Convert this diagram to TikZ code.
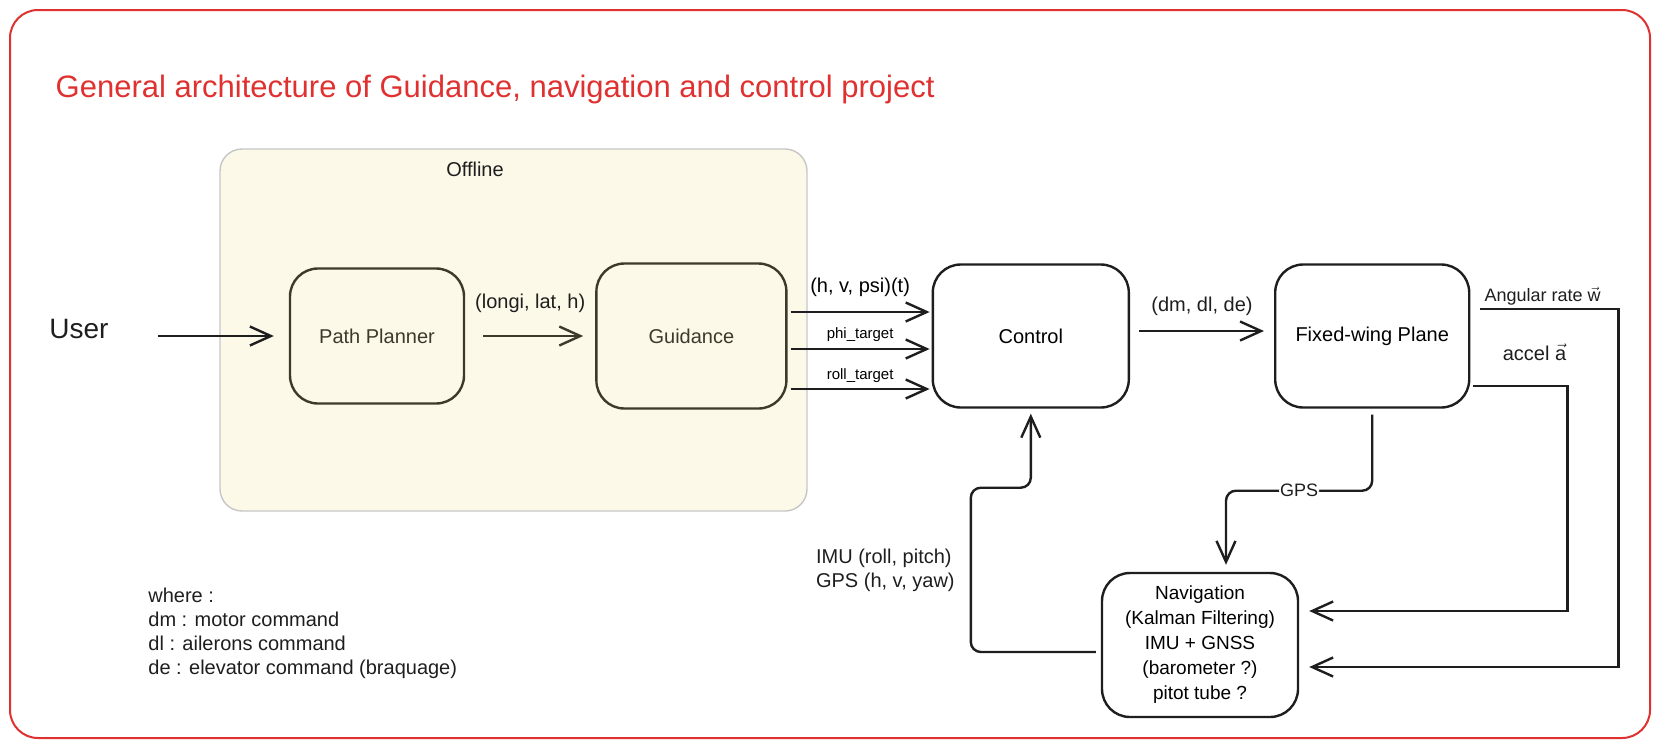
\documentclass[tikz,border=0pt]{standalone}
\usepackage{fontspec}
\setmainfont{Liberation Sans}
\usetikzlibrary{positioning,calc,arrows.meta}

\definecolor{frame}{HTML}{E03131}
\definecolor{olive}{HTML}{3D3A2C}
\definecolor{cream}{HTML}{FDF9E9}
\definecolor{ink}{HTML}{1E1E1E}

\tikzset{
  box/.style={draw=ink, line width=2.4pt, rounded corners=28pt, minimum width=196pt,
    minimum height=143pt, align=center, font=\fontsize{20}{25}\selectfont},
  arr/.style={draw=ink, line width=2.4pt, -{Straight Barb[length=21pt,width=19pt]}},
  lbl/.style={font=\fontsize{20}{24}\selectfont, inner sep=2pt, text=ink},
}

\begin{document}
\begin{tikzpicture}[x=1pt, y=-1pt, thick]
            \useasboundingbox (0,0) rectangle (1660,748);
            % frame and offline area
            \draw[frame, line width=2pt, rounded corners=28pt] (10,10) rectangle (1650,738);
            \draw[draw=gray!45, fill=cream, line width=1.4pt, rounded corners=22pt] (220,149) rectangle (807,511);
            \node[font=\fontsize{31}{36}\selectfont, text=frame, anchor=west] (title) at (52,89) {General architecture of Guidance, navigation and control project};
            \node[lbl] (off) at (475,169) {Offline};

            % blocks
            \node[lbl, font=\fontsize{28}{32}\selectfont] (1) at (79,329) {User};
            \node[box, draw=olive, text=olive, minimum width=174pt, minimum height=135pt] (2) at (377,336) {Path Planner};
            \node[box, draw=olive, text=olive, minimum width=190pt, minimum height=145pt] (3) [right=130pt of 2] {Guidance};
            \node[box] (4) [right=144pt of 3] {Control};
            \node[box, minimum width=194pt] (5) [right=144pt of 4] {Fixed-wing Plane};
            \node[box, minimum height=144pt, font=\fontsize{19}{25}\selectfont] (6) at (1200,645) {Navigation\\(Kalman Filtering)\\IMU + GNSS\\(barometer ?)\\pitot tube ?};

            % connectors
            \draw[arr, shorten <=47pt, shorten >=15pt] (1.east |- 2.west) -- (2.west);
            \draw[arr, draw=olive, shorten <=18pt, shorten >=12pt] (2.east |- 3.west) -- (3.west) node[lbl, midway, above=20pt] {(longi, lat, h)};
            \foreach \dy/\txt/\fs/\up in {-24/{(h, v, psi)(t)}/20/12, 13/phi\_target/15/4, 53/roll\_target/15/3}
                \draw[arr] ($(3.east)+(3,\dy)$) -- ($(4.west)+(-2,\dy)$) node[midway, above=\up pt, inner sep=2pt, font=\fontsize{\fs}{\fs}\selectfont] {\txt};
            \draw[arr, shorten <=9pt, shorten >=10pt] ($(4.east)+(0,-5)$) -- ($(5.west)+(0,-5)$) node[lbl, midway, above=12pt] {(dm, dl, de)};
            \draw[arr] ($(5.east)+(10,-27)$) node[lbl, anchor=south west, inner sep=3pt, font=\fontsize{18}{20}\selectfont] (w) {Angular rate \(\vec{\mbox{w}}\)} -- ++(138,0) |- ($(6.east)+(10,22)$);
            \draw[arr] ($(5.east)+(3,50)$) -- node[lbl, pos=0.65, above=22pt] {accel \(\vec{\mbox{a}}\)} ++(94,0) |- ($(6.east)+(10,-34)$);
            \draw[arr, rounded corners=10pt, shorten <=6pt] (5.south) -- ++(0,82) -| node[lbl, pos=0.25, fill=white, inner sep=1pt, font=\fontsize{18}{20}\selectfont] {GPS} ($(6.north)+(26,-7)$);
            \draw[arr, rounded corners=10pt] ($(6.west)+(-5,7)$) -| node[lbl, pos=0.75, left=13pt, align=left] {IMU (roll, pitch)\\GPS (h, v, yaw)} ($(4.south)+(-60,79)$) -| ($(4.south)+(0,5)$);

            % legend
            \node[lbl, anchor=north west, align=left, font=\fontsize{20}{23.7}\selectfont] (legend) at (146,586) {where :\\dm : motor command\\dl : ailerons command\\de : elevator command (braquage)};
\end{tikzpicture}
\end{document}
